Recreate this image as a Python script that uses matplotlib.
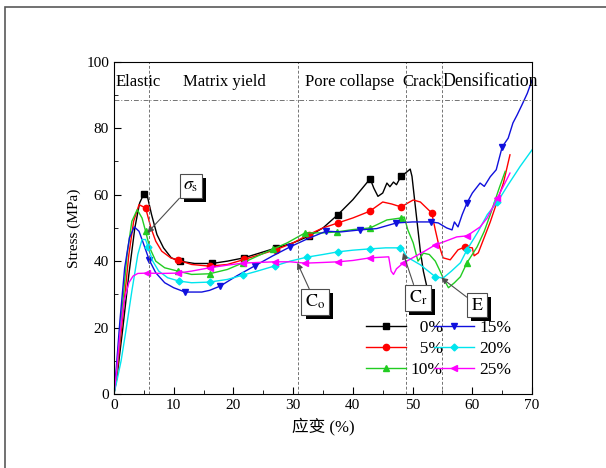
import matplotlib
matplotlib.use("Agg")
import matplotlib.pyplot as plt
import matplotlib.patheffects as pe
from matplotlib.patches import Rectangle
import numpy as np

plt.rcParams['font.family'] = ['Liberation Serif', 'Noto Sans CJK SC']
plt.rcParams['mathtext.fontset'] = 'stix'

# strain (%) / stress (MPa)
x0 = [0, 0.5, 1.5, 2.5, 3.5, 4.3, 5.0, 5.6, 6.3, 7.2, 8.3, 9.6, 11, 13.5, 16.4, 19, 21.8, 24.5, 27.2, 30,
      32.6, 35, 37.5, 40, 42.9, 43.5, 44.2, 45, 45.7, 46.2, 46.8, 47.3, 48.1, 48.8, 49.6, 49.9, 50.3, 50.8,
      51.3, 51.8, 52.3]
y0 = [0, 5, 20, 36, 50, 57.5, 60.2, 59.5, 54, 48, 44, 41, 40, 39.3, 39.3, 40, 41, 42.5, 44, 45.5,
      47.5, 50, 54, 58.5, 64.8, 62, 59.5, 60.5, 63.5, 62.4, 63.8, 63, 65.7, 66.5, 67.7, 65.5, 59, 51,
      43, 37, 33]

x5 = [0, 0.5, 1.5, 2.5, 3.3, 4.2, 5.3, 6.2, 7, 8, 9.5, 10.7, 13, 16, 19, 21.8, 24.5, 27.2, 30, 32.6,
      35, 37.5, 40, 42.8, 45, 46.5, 48.1, 49.2, 50.1, 51.3, 53.2, 53.8, 54.3, 55.1, 56.3, 57.6, 58.8,
      60, 60.3, 61, 63, 65.2, 66.3]
y5 = [0, 6, 24, 42, 52, 57, 56, 50, 46, 43, 41, 40.3, 39, 38.5, 39, 40.5, 42, 43.5, 45.5, 48,
      50, 51.5, 53, 55, 57.8, 57.2, 56.3, 57.5, 58.4, 57.8, 54.5, 49.4, 45.5, 41, 40.4, 43.4, 44.3,
      44, 41.6, 42.5, 51.8, 63.5, 72]

x10 = [0, 0.5, 1.3, 2.2, 3, 3.9, 4.7, 5.3, 6, 7, 8.5, 10.7, 13, 16, 19, 21.6, 24, 26.6, 29, 32,
       35, 37.3, 40, 42.9, 45.7, 48.1, 48.6, 49.2, 50.1, 50.9, 51.3, 51.8, 52.8, 53.8, 54.6, 55.1,
       56, 57, 58, 59.1, 60.8, 62, 63, 64.5, 65.5]
y10 = [0, 7, 24, 42, 52, 55.5, 53, 49, 44, 40, 38, 37, 36, 36.2, 37.5, 39.5, 41.5, 43.6, 45.5, 48.5,
       48.5, 48.8, 49.5, 50, 52.4, 53, 53.3, 49.4, 45.5, 40, 41, 42.4, 42, 40, 37, 35,
       32, 33.5, 35.3, 39.5, 44.3, 49, 54, 62, 67]

x15 = [0, 0.4, 1, 1.8, 2.6, 3.4, 4.2, 5, 5.9, 7, 8.5, 10, 11.9, 14.7, 16, 17.8, 20.5, 23.6, 26.5, 29.5,
       32.5, 35.5, 38, 41.2, 44, 47.3, 50, 53, 54.3, 55.7, 56.6, 57, 57.6, 58.3, 59.1, 60, 61.3, 62,
       63, 64, 65, 66, 66.8, 67.5, 68.3, 69.2, 70]
y15 = [0, 8, 22, 38, 47, 50.3, 49, 45, 40.4, 36.5, 33.5, 32, 30.7, 30.7, 31.2, 32.5, 35.5, 38.6, 41.5, 44.3,
       46.8, 49, 48.8, 49.4, 49.8, 51.5, 51.8, 51.8, 51.5, 50, 49.4, 51.8, 50.3, 54, 57.5, 60.5, 63.5, 62.5,
       65.4, 67.5, 74.4, 77, 81.6, 84, 87, 90.5, 94.5]

x20 = [0, 0.5, 1.2, 2, 3, 4, 4.7, 5.3, 5.7, 6.5, 7.5, 9, 10.9, 13, 16, 19, 21.6, 24, 27, 29.5,
       32.3, 35, 37.5, 40, 42.9, 45.5, 47.9, 48.5, 49, 51.3, 53.8, 55.1, 56.5, 58, 59.1, 61, 62.5,
       64.2, 66, 68, 70]
y20 = [0, 4, 10, 19, 31, 42, 46.5, 46.5, 44.3, 40, 37, 35, 34, 33.5, 33.7, 34.5, 35.8, 37, 38.6, 40,
       41.2, 42, 42.8, 43.3, 43.7, 44, 44, 43, 41.3, 38.9, 35.3, 34.9, 37, 39.5, 43.4, 49, 54,
       57.8, 63, 68.5, 73.5]

x25 = [0, 0.4, 1, 1.7, 2.5, 3.2, 4, 5.5, 8, 10.7, 13, 16, 19, 21.6, 24, 27, 29.5, 32, 35, 37.5,
       40, 42.9, 46, 46.4, 46.8, 47.3, 48.4, 50, 52, 53.8, 55.5, 57.4, 59.1, 61.3, 62.5, 64.2, 66.3]
y25 = [0, 6, 18, 28, 33.5, 35.5, 36.3, 36.4, 36.3, 36.4, 37, 38, 38.8, 39.4, 39.6, 39.8, 39.8, 39.4, 39.6, 39.8,
       40.2, 41, 41.3, 37, 36, 37.7, 39.4, 41, 43, 44.9, 46, 47.3, 47.6, 50.3, 53, 59, 66.5]

# strains where each curve carries a symbol
mk0 = [5.0, 11, 16.4, 21.8, 27.2, 32.6, 37.5, 42.9, 48.1]
mk5 = [5.3, 10.7, 16, 21.8, 27.2, 32.6, 37.5, 42.8, 48.1, 53.2, 58.8]
mk10 = [5.3, 10.7, 16, 21.6, 26.6, 32, 37.3, 42.9, 48.1, 59.1]
mk15 = [5.9, 11.9, 17.8, 23.6, 29.5, 35.5, 41.2, 47.3, 53, 59.1, 65]
mk20 = [5.7, 10.9, 16, 21.6, 27, 32.3, 37.5, 42.9, 47.9, 53.8, 59.1, 64.2]
mk25 = [5.5, 10.7, 16, 21.6, 27, 32, 37.5, 42.9, 48.4, 53.8, 59.1, 64.2]

labels = ['  0%', '  5%', '10%', '15%', '20%', '25%']
colors = ['black', 'red', '#22cc22', '#1010dd', '#00e5ee', '#ff00ff']
markers = ['s', 'o', '^', 'v', 'D', '<']
msizes = [4, 4.5, 4.5, 4.5, 3.5, 4.5]

regions = ['Elastic', 'Matrix yield', 'Pore collapse', 'Crack', 'Densification']
region_x = [4.0, 18.5, 39.5, 51.6, 63.0]
bounds = [5.9, 30.8, 48.9, 55.0]

fig = plt.figure(figsize=(6.06, 4.68), dpi=100)
fig.add_artist(Rectangle((5 / 606, -0.1), 1.2, 1 - 7 / 468 + 0.1, transform=fig.transFigure,
                         fill=False, edgecolor='0.35', lw=1.2))
ax = fig.add_axes([0.188, 0.158, 0.690, 0.710])

series = [(x0, y0, mk0), (x5, y5, mk5), (x10, y10, mk10),
          (x15, y15, mk15), (x20, y20, mk20), (x25, y25, mk25)]
for (xs, ys, mk), lab, c, m, ms in zip(series, labels, colors, markers, msizes):
    idx = [xs.index(v) for v in mk]
    ax.plot(xs, ys, color=c, lw=1.0, marker=m, ms=ms, markevery=idx, label=lab)

for b in bounds:
    ax.axvline(b, color='0.45', lw=0.7, ls=(0, (3, 2)))
ax.axhline(88.5, color='0.45', lw=0.7, ls=(0, (5, 2, 1, 2)))
for t, xr in zip(regions, region_x):
    ax.text(xr, 94, t, ha='center', va='center', fontsize=12.8 if t == 'Densification' else 12)


def tag(s, xy, xytext):
    a = ax.annotate(s, xy=xy, xytext=xytext, ha='center', va='center', fontsize=13,
                    bbox=dict(boxstyle='square,pad=0.2', fc='white', ec='0.3', lw=0.8),
                    arrowprops=dict(arrowstyle='-|>', color='0.3', lw=0.8, mutation_scale=9,
                                    shrinkA=0, shrinkB=0))
    a.get_bbox_patch().set_path_effects([
        pe.SimplePatchShadow(offset=(3, -3), shadow_rgbFace='black', alpha=1), pe.Normal()])


tag(r'$\sigma_{\rm s}$', (5.6, 48.5), (12.9, 62.7))
tag(r'$\rm C_o$', (30.7, 39.5), (33.7, 27.7))
tag(r'$\rm C_r$', (48.4, 42.5), (50.9, 29.0))
tag(r'$\rm E$', (54.8, 35), (60.8, 26.8))

ax.set_xlim(0, 70)
ax.set_ylim(0, 100)
ax.set_xticks(np.arange(0, 71, 10))
ax.set_xticks(np.arange(5, 70, 10), minor=True)
ax.set_yticks(np.arange(0, 101, 20))
ax.set_yticks(np.arange(10, 100, 20), minor=True)
ax.tick_params(which='both', direction='in', labelsize=11)
ax.tick_params(which='major', length=5)
ax.tick_params(which='minor', length=3)
ax.set_xlabel('应变 (%)', fontsize=12)
ax.set_ylabel('Stress (MPa)', fontsize=11)

leg = ax.legend(ncol=2, loc='lower left', bbox_to_anchor=(0.565, 0.0), frameon=False, fontsize=12.5,
                handlelength=2.3, columnspacing=-0.5, handletextpad=0.3, labelspacing=0.3, numpoints=1)
leg.set_zorder(10)

fig.savefig('out.png', dpi=100)
